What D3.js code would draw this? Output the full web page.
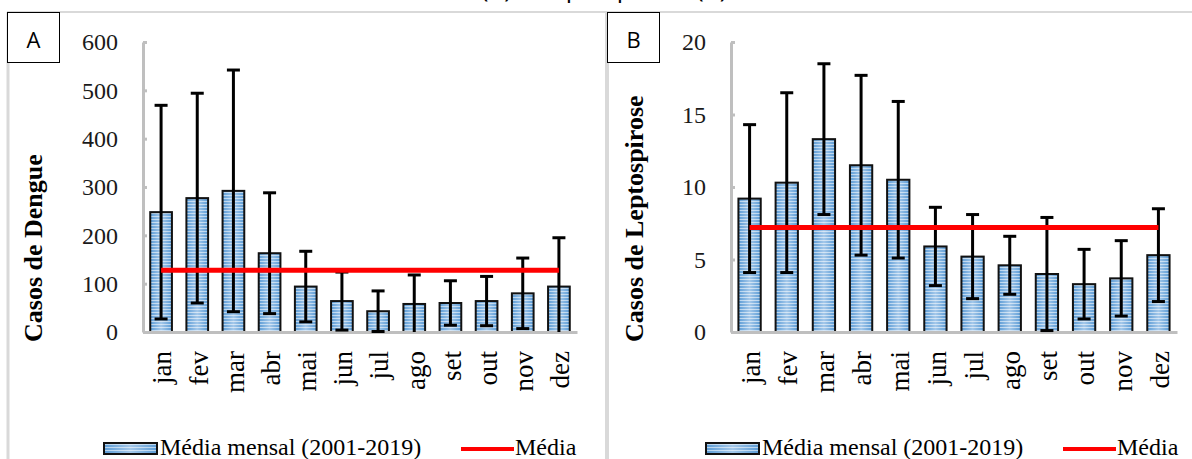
<!DOCTYPE html>
<html>
<head>
<meta charset="utf-8">
<script src="https://cdn.jsdelivr.net/npm/d3@7"></script>
<style>
  body { margin: 0; background: #fff; }
  svg { display: block; }
</style>
</head>
<body>
<div id="chart"></div>
<script>
// values
const months = ["jan", "fev", "mar", "abr", "mai", "jun", "jul", "ago", "set", "out", "nov", "dez"];

const dengueMean = [248, 277, 292, 163, 94, 64, 43, 58, 60, 64, 80, 94];
const dengueSd = [221, 217, 250, 125, 73, 60, 42, 60, 46, 51, 73, 101];
const dengueAvg = 128;
const dengueTicks = [0, 100, 200, 300, 400, 500, 600];

const leptoMean = [9.2, 10.3, 13.3, 11.5, 10.5, 5.9, 5.2, 4.6, 4.0, 3.3, 3.7, 5.3];
const leptoSd = [5.1, 6.2, 5.2, 6.2, 5.4, 2.7, 2.9, 2.0, 3.9, 2.4, 2.6, 3.2];
const leptoAvg = 7.2;
const leptoTicks = [0, 5, 10, 15, 20];

const legendBar = "Média mensal (2001-2019)";
const legendLine = "Média";

const W = 1192, H = 459;
const serif = "'Liberation Serif', 'Times New Roman', serif";
const sans = "'Open Sans', 'Noto Sans', sans-serif";

let svg = d3.select("#chart").append("svg")
    .attr("width", W)
    .attr("height", H);

let defs = svg.append("defs");
let grad = defs.append("linearGradient").attr("id", "barGrad");
grad.append("stop").attr("offset", "0%").attr("stop-color", "#5b9bd5");
grad.append("stop").attr("offset", "50%").attr("stop-color", "#a4c8ea");
grad.append("stop").attr("offset", "100%").attr("stop-color", "#5b9bd5");

let stripes = defs.append("pattern")
    .attr("id", "stripes")
    .attr("patternUnits", "userSpaceOnUse")
    .attr("width", 6).attr("height", 3);
stripes.append("rect")
    .attr("width", 6).attr("height", 1)
    .attr("fill", "#ffffff").attr("fill-opacity", 0.55);

// cut-off title above the panels (only its lowest pixels show, as in the figure)
svg.append("text")
    .attr("x", 481).attr("y", -3)
    .attr("font-family", sans)
    .attr("font-size", 25)
    .attr("fill", "#000")
    .text("(A) e Leptospirose (B)");

// panel frames
svg.append("line").attr("x1", 7).attr("x2", W).attr("y1", 12).attr("y2", 12)
    .attr("stroke", "#d9d9d9").attr("stroke-width", 2);
svg.append("line").attr("x1", 8).attr("x2", 8).attr("y1", 12).attr("y2", H)
    .attr("stroke", "#d9d9d9").attr("stroke-width", 3);
svg.append("line").attr("x1", 607).attr("x2", 607).attr("y1", 12).attr("y2", H)
    .attr("stroke", "#d9d9d9").attr("stroke-width", 4);

function drawPanel(p) {
    let g = svg.append("g");

    // letter box
    g.append("rect")
        .attr("x", p.boxX + 0.5).attr("y", 12.5)
        .attr("width", 52).attr("height", 50)
        .attr("fill", "#fff").attr("stroke", "#000").attr("stroke-width", 1);
    g.append("text")
        .attr("x", p.boxX + 26.5).attr("y", 48)
        .attr("text-anchor", "middle")
        .attr("font-family", sans)
        .attr("font-size", 22)
        .text(p.letter);

    let x = d3.scaleBand()
        .domain(months)
        .range([p.left, p.right])
        .paddingInner(0.4)
        .paddingOuter(0.2);

    let y = d3.scaleLinear()
        .domain([0, d3.max(p.ticks)])
        .range([p.bottom, p.top]);

    let rows = months.map((m, i) => ({month: m, mean: p.mean[i], sd: p.sd[i]}));

    // y axis
    let yAxis = g.append("g")
        .attr("transform", "translate(" + p.left + ",0)")
        .call(d3.axisLeft(y).tickValues(p.ticks).tickSize(-4).tickSizeOuter(0).tickPadding(25));
    yAxis.select(".domain").attr("stroke", "#bfbfbf").attr("stroke-width", 3);
    yAxis.selectAll(".tick line").attr("stroke", "#bfbfbf").attr("stroke-width", 3);
    yAxis.selectAll("text")
        .attr("font-family", serif)
        .attr("font-size", 24)
        .attr("fill", "#1a1a1a");

    // bars
    let bars = g.append("g");
    bars.selectAll("rect.base")
        .data(rows)
        .join("rect")
        .attr("class", "base")
        .attr("x", d => x(d.month))
        .attr("y", d => y(d.mean))
        .attr("width", x.bandwidth())
        .attr("height", d => p.bottom - y(d.mean))
        .attr("fill", "url(#barGrad)");
    bars.selectAll("rect.lines")
        .data(rows)
        .join("rect")
        .attr("class", "lines")
        .attr("x", d => x(d.month))
        .attr("y", d => y(d.mean))
        .attr("width", x.bandwidth())
        .attr("height", d => p.bottom - y(d.mean))
        .attr("fill", "url(#stripes)")
        .attr("stroke", "#111")
        .attr("stroke-width", 2);

    // x axis
    let xAxis = g.append("g")
        .attr("transform", "translate(0," + p.bottom + ")")
        .call(d3.axisBottom(x).tickSize(0).tickSizeOuter(0));
    xAxis.select(".domain").attr("stroke", "#bfbfbf").attr("stroke-width", 3);
    xAxis.selectAll("text")
        .attr("transform", "rotate(-90)")
        .attr("x", -19)
        .attr("y", 0)
        .attr("dy", "0.38em")
        .style("text-anchor", "end")
        .attr("font-family", serif)
        .attr("font-size", 27)
        .attr("fill", "#000");

    // error bars
    let cap = 13;
    let err = g.append("g").attr("stroke", "#000").attr("stroke-width", 3);
    let lo = d => y(Math.max(0, d.mean - d.sd));
    let hi = d => y(d.mean + d.sd);
    let cx = d => x(d.month) + x.bandwidth() / 2;
    err.selectAll("line.stem").data(rows).join("line")
        .attr("class", "stem")
        .attr("x1", cx).attr("x2", cx)
        .attr("y1", lo).attr("y2", hi);
    err.selectAll("line.top").data(rows).join("line")
        .attr("class", "top")
        .attr("x1", d => cx(d) - cap / 2).attr("x2", d => cx(d) + cap / 2)
        .attr("y1", hi).attr("y2", hi);
    err.selectAll("line.bot").data(rows.filter(d => d.mean - d.sd > 0)).join("line")
        .attr("class", "bot")
        .attr("x1", d => cx(d) - cap / 2).attr("x2", d => cx(d) + cap / 2)
        .attr("y1", lo).attr("y2", lo);

    // overall mean line
    g.append("line")
        .attr("x1", cx(rows[0])).attr("x2", cx(rows[rows.length - 1]))
        .attr("y1", y(p.avg)).attr("y2", y(p.avg))
        .attr("stroke", "#ff0000").attr("stroke-width", 5);

    // y title
    g.append("text")
        .attr("transform", "translate(" + p.titleX + ",342) rotate(-90)")
        .attr("font-family", serif)
        .attr("font-weight", "bold")
        .attr("font-size", 26)
        .text(p.title);

    // legend
    let lg = g.append("g");
    lg.append("rect")
        .attr("x", p.legX).attr("y", 443)
        .attr("width", 53).attr("height", 11)
        .attr("fill", "url(#barGrad)");
    lg.append("rect")
        .attr("x", p.legX).attr("y", 443)
        .attr("width", 53).attr("height", 11)
        .attr("fill", "url(#stripes)")
        .attr("stroke", "#111").attr("stroke-width", 2);
    lg.append("text")
        .attr("x", p.legX + 56).attr("y", 455)
        .attr("font-family", serif).attr("font-size", 24)
        .text(legendBar);
    lg.append("line")
        .attr("x1", p.legX + 357).attr("x2", p.legX + 410)
        .attr("y1", 449).attr("y2", 449)
        .attr("stroke", "#ff0000").attr("stroke-width", 4);
    lg.append("text")
        .attr("x", p.legX + 411).attr("y", 455)
        .attr("font-family", serif).attr("font-size", 24)
        .text(legendLine);
}

drawPanel({
    letter: "A", boxX: 7,
    left: 143, right: 577, top: 42, bottom: 332,
    mean: dengueMean, sd: dengueSd, avg: dengueAvg, ticks: dengueTicks,
    title: "Casos de Dengue", titleX: 42, legX: 104
});

drawPanel({
    letter: "B", boxX: 607,
    left: 731, right: 1177, top: 42, bottom: 332,
    mean: leptoMean, sd: leptoSd, avg: leptoAvg, ticks: leptoTicks,
    title: "Casos de Leptospirose", titleX: 643, legX: 706
});
</script>
</body>
</html>
